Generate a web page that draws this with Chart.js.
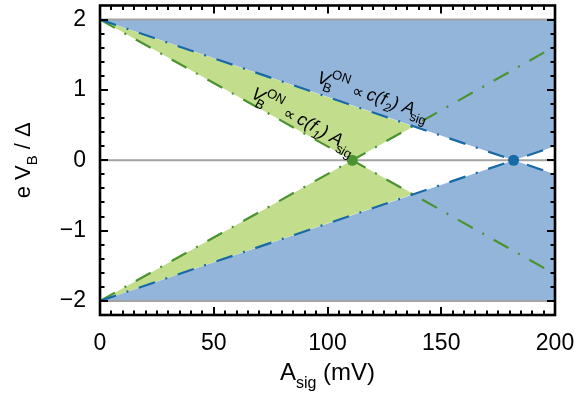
<!DOCTYPE html>
<html>
<head>
<meta charset="utf-8">
<script src="https://cdn.jsdelivr.net/npm/chart.js@4.4.1/dist/chart.umd.min.js"></script>
<style>
html, body { margin: 0; padding: 0; background: #fff; }
</style>
</head>
<body>
<canvas id="chart" width="576" height="398"></canvas>
<script>
// values
const xTicks = [0, 50, 100, 150, 200]
const yTicks = [-2, -1, 0, 1, 2]
const refLevels = [2, 0, -2]
// blue lines V_B^ON ~ c(f2) A_sig, they cross at the blue point
const blueX = [0, 181.8, 200]
const blueUp = [2, 0, -0.2]
const blueDown = [-2, 0, 0.2]
// green lines V_B^ON ~ c(f1) A_sig, they cross at the green point
const greenX = [0, 110.9, 200]
const greenUp = [2, 0, -1.62]
const greenDown = [-2, 0, 1.62]
// where the green line meets the blue one (end of the green area)
const meetX = 137.8
const meetY = 0.48
const dotsX = [110.9, 181.8]
const dotsY = [0, 0]

const BLUE_FILL = '#93b5da'
const GREEN_FILL = '#c2dd8c'
const BLUE_LINE = '#176aa6'
const GREEN_LINE = '#4b9231'
const GRAY = '#a3a3a3'
const FONT = '"Liberation Sans", Arial, sans-serif'
const DASH = [17, 11, 2, 11]

function pts(xs, ys){
    return xs.map((x, i) => ({x: x, y: ys[i]}))
}

let datasets = [
    // 0,1 blue areas, up to +2 and down to -2
    {data: pts(blueX, [blueUp[0], blueUp[1], blueDown[2]]), fill: {value: refLevels[0]},
     backgroundColor: BLUE_FILL, borderWidth: 0, order: 10},
    {data: pts(blueX, [blueDown[0], blueDown[1], blueUp[2]]), fill: {value: refLevels[2]},
     backgroundColor: BLUE_FILL, borderWidth: 0, order: 10},
    // 2 upper edge of the top green area (invisible)
    {data: [{x: blueX[0], y: blueUp[0]}, {x: meetX, y: meetY}], fill: false, borderWidth: 0, order: 10},
    // 3 top green area
    {data: [{x: greenX[0], y: greenUp[0]}, {x: greenX[1], y: greenUp[1]}, {x: meetX, y: meetY}], fill: 2,
     backgroundColor: GREEN_FILL, borderWidth: 0, order: 9},
    // 4 lower edge of the bottom green area (invisible)
    {data: [{x: blueX[0], y: blueDown[0]}, {x: meetX, y: -meetY}], fill: false, borderWidth: 0, order: 10},
    // 5 bottom green area
    {data: [{x: greenX[0], y: greenDown[0]}, {x: greenX[1], y: greenDown[1]}, {x: meetX, y: -meetY}], fill: 4,
     backgroundColor: GREEN_FILL, borderWidth: 0, order: 9}
]

refLevels.forEach(v => {
    datasets.push({data: [{x: xTicks[0], y: v}, {x: xTicks[xTicks.length - 1], y: v}],
        borderColor: GRAY, borderWidth: 2, fill: false, order: 5})
})

datasets.push({data: pts(blueX, blueUp), borderColor: BLUE_LINE, borderWidth: 2.2, borderDash: DASH, fill: false, order: 3})
datasets.push({data: pts(blueX, blueDown), borderColor: BLUE_LINE, borderWidth: 2.2, borderDash: DASH, fill: false, order: 3})
datasets.push({data: pts(greenX, greenUp), borderColor: GREEN_LINE, borderWidth: 2.2, borderDash: DASH, fill: false, order: 3})
datasets.push({data: pts(greenX, greenDown), borderColor: GREEN_LINE, borderWidth: 2.2, borderDash: DASH, fill: false, order: 3})

datasets.push({data: pts(dotsX, dotsY), showLine: false, pointRadius: 5.5, pointBorderWidth: 0,
    pointBackgroundColor: [GREEN_LINE, BLUE_LINE], order: 1})

// draw text made of pieces (sub / superscripts), optionally rotated
function measureRich(ctx, parts){
    let cx = 0, stackStart = null, stackW = 0
    parts.forEach(p => {
        ctx.font = p.f + ' ' + FONT
        let w = ctx.measureText(p.t).width
        let px = cx + (p.dx || 0)
        if (p.stack) { stackStart = cx; stackW = px + w - cx }
        else if (stackStart !== null) { cx = Math.max(stackStart + stackW, px + w); stackStart = null }
        else cx = px + w
    })
    return cx
}

function drawRich(ctx, x, y, ang, parts){
    ctx.save()
    ctx.translate(x, y)
    ctx.rotate(ang)
    ctx.textAlign = 'left'
    ctx.textBaseline = 'alphabetic'
    ctx.fillStyle = '#000'
    let cx = 0, stackStart = null, stackW = 0
    parts.forEach(p => {
        ctx.font = p.f + ' ' + FONT
        let w = ctx.measureText(p.t).width
        let px = cx + (p.dx || 0)
        ctx.fillText(p.t, px, p.dy || 0)
        if (p.stack) { stackStart = cx; stackW = px + w - cx }
        else if (stackStart !== null) { cx = Math.max(stackStart + stackW, px + w); stackStart = null }
        else cx = px + w
    })
    ctx.restore()
}

function labelParts(n){
    return [
        {t: 'V', f: 'italic 18px'},
        {t: 'ON', f: '13px', dy: -9, dx: 1, stack: true},
        {t: 'B', f: '13px', dy: 6, dx: -4},
        {t: ' \u221d ', f: '16px', dy: 1},
        {t: 'c(f', f: 'italic 18px'},
        {t: n, f: 'italic 12px', dy: 5},
        {t: ') A', f: 'italic 18px'},
        {t: 'sig', f: '13px', dy: 6, dx: -2}
    ]
}

const decorPlugin = {
    id: 'decor',
    afterDatasetsDraw(chart){
        const ctx = chart.ctx
        const xs = chart.scales.x, ys = chart.scales.y
        // line labels, following the slope of each line
        let aBlue = Math.atan2(ys.getPixelForValue(blueUp[1]) - ys.getPixelForValue(blueUp[0]),
                               xs.getPixelForValue(blueX[1]) - xs.getPixelForValue(blueX[0]))
        let aGreen = Math.atan2(ys.getPixelForValue(greenUp[1]) - ys.getPixelForValue(greenUp[0]),
                                xs.getPixelForValue(greenX[1]) - xs.getPixelForValue(greenX[0]))
        drawRich(ctx, xs.getPixelForValue(94.9), ys.getPixelForValue(1.11), aBlue, labelParts('2'))
        drawRich(ctx, xs.getPixelForValue(65.9), ys.getPixelForValue(0.90), aGreen, labelParts('1'))
    },
    afterDraw(chart){
        const ctx = chart.ctx
        const a = chart.chartArea
        const xs = chart.scales.x, ys = chart.scales.y
        ctx.save()
        ctx.strokeStyle = '#000'
        ctx.lineWidth = 2
        ctx.beginPath()
        for (let v = xTicks[0]; v <= xTicks[xTicks.length - 1] + 0.01; v += 5) {
            let len = Math.abs(v % 50) < 0.01 ? 8 : 4.5
            let px = Math.round(xs.getPixelForValue(v))
            ctx.moveTo(px, a.bottom); ctx.lineTo(px, a.bottom - len)
            ctx.moveTo(px, a.top); ctx.lineTo(px, a.top + len)
        }
        for (let i = 0; i <= 20; i++) {
            let v = yTicks[0] + i * 0.2
            let len = Math.abs(v - Math.round(v)) < 0.01 ? 8 : 4.5
            let py = Math.round(ys.getPixelForValue(v))
            ctx.moveTo(a.left, py); ctx.lineTo(a.left + len, py)
            ctx.moveTo(a.right, py); ctx.lineTo(a.right - len, py)
        }
        ctx.stroke()
        ctx.lineWidth = 2.6
        ctx.strokeRect(a.left, a.top, a.right - a.left, a.bottom - a.top)

        // axis titles
        let xParts = [
            {t: 'A', f: '24px'},
            {t: 'sig', f: '16px', dy: 8},
            {t: ' (mV)', f: '24px'}
        ]
        let w = measureRich(ctx, xParts)
        drawRich(ctx, (a.left + a.right) / 2 - w / 2, 380, 0, xParts)
        let yParts = [
            {t: 'e V', f: '22px'},
            {t: 'B', f: '15px', dy: 7},
            {t: ' / \u0394', f: '22px'}
        ]
        w = measureRich(ctx, yParts)
        drawRich(ctx, 30, (a.top + a.bottom) / 2 + w / 2, -Math.PI / 2, yParts)
        ctx.restore()
    }
}

let ctx = document.getElementById('chart').getContext('2d')
let chart = new Chart(ctx, {
    type: 'line',
    data: {datasets: datasets},
    options: {
        responsive: false,
        animation: false,
        devicePixelRatio: 1,
        layout: {padding: {top: 3, right: 21, left: 0, bottom: 0}},
        elements: {point: {radius: 0}, line: {tension: 0}},
        plugins: {legend: {display: false}, tooltip: {enabled: false}},
        scales: {
            x: {
                type: 'linear', min: 0, max: 200,
                grid: {display: false}, border: {display: false},
                afterBuildTicks: s => { s.ticks = xTicks.map(v => ({value: v})) },
                afterFit: s => { s.height = 83; s.paddingLeft = 0; s.paddingRight = 0 },
                ticks: {color: '#000', font: {family: FONT, size: 23}, padding: 7, maxRotation: 0, autoSkip: false}
            },
            y: {
                type: 'linear', min: -2.2, max: 2.2,
                grid: {display: false}, border: {display: false},
                afterBuildTicks: s => { s.ticks = yTicks.map(v => ({value: v})) },
                afterFit: s => { s.width = 100; s.paddingTop = 0; s.paddingBottom = 0 },
                ticks: {color: '#000', font: {family: FONT, size: 23}, padding: 6,
                        callback: v => v < 0 ? '\u2212' + Math.abs(v) : String(v)}
            }
        }
    },
    plugins: [decorPlugin]
})
</script>
</body>
</html>
